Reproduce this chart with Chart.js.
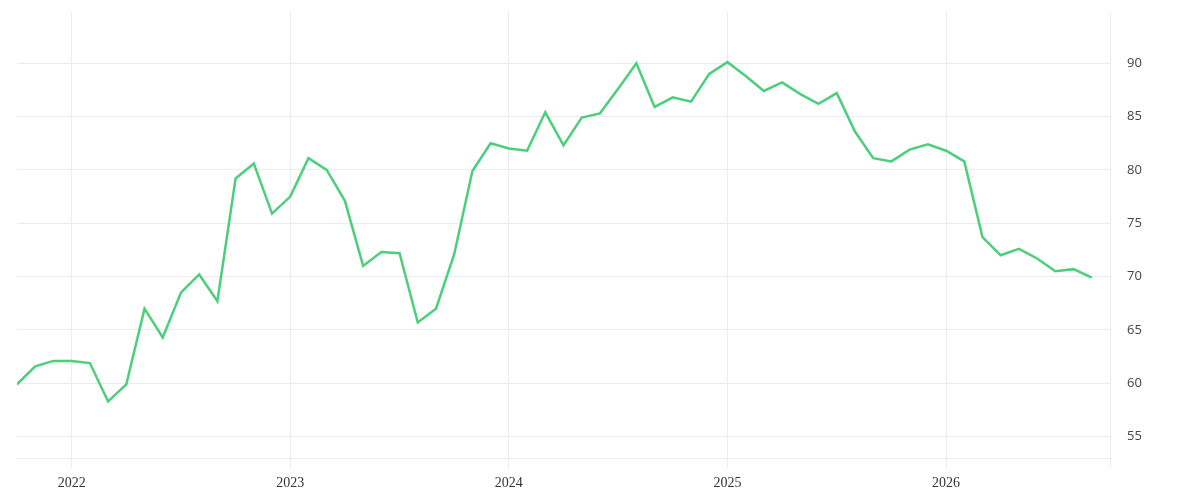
<!DOCTYPE html>
<html>
<head>
<meta charset="utf-8">
<script src="https://cdn.jsdelivr.net/npm/chart.js@4"></script>
<style>
  html, body { margin: 0; padding: 0; background: #fff; }
  #wrap { width: 1200px; height: 500px; }
</style>
</head>
<body>
<div id="wrap"><canvas id="c"></canvas></div>
<script>
// --- data: monthly values, Oct 2021 .. Sep 2026 ---
const startYear = 2021;
const startMonth = 10; // October
const values = [
    59.9, 61.6, 62.1, 62.1, 61.9, 58.3, 59.9, 67.0, 64.3, 68.5, 70.2, 67.7,
    79.2, 80.6, 75.9, 77.5, 81.1, 80.0, 77.1, 71.0, 72.3, 72.2, 65.7, 67.0,
    72.1, 79.9, 82.5, 82.0, 81.8, 85.4, 82.3, 84.9, 85.3, 87.6, 90.0, 85.9,
    86.8, 86.4, 89.0, 90.1, 88.8, 87.4, 88.2, 87.1, 86.2, 87.2, 83.6, 81.1,
    80.8, 81.9, 82.4, 81.8, 80.8, 73.7, 72.0, 72.6, 71.7, 70.5, 70.7, 69.9
];
const yearTicks = [2022, 2023, 2024, 2025, 2026];
const yTicks = [55, 60, 65, 70, 75, 80, 85, 90];

// month index (0 = first month) for each year start
function monthIndex(year, month) {
    return (year - startYear) * 12 + (month - startMonth);
}

const points = values.map((v, i) => ({ x: i, y: v }));
const xMax = values.length; // one month past the last point
const gridColor = '#ececec';

new Chart(document.getElementById('c'), {
    type: 'line',
    data: {
        datasets: [{
            data: points,
            borderColor: '#4ccf7c',
            borderWidth: 2.5,
            pointRadius: 0,
            tension: 0,
            fill: false
        }]
    },
    options: {
        responsive: true,
        maintainAspectRatio: false,
        animation: false,
        layout: { padding: { left: 17, top: 12, right: 0, bottom: 0 } },
        plugins: { legend: { display: false }, tooltip: { enabled: false } },
        scales: {
            x: {
                type: 'linear',
                min: 0,
                max: xMax,
                afterBuildTicks: (scale) => {
                    const t = yearTicks.map(y => ({ value: monthIndex(y, 1) }));
                    t.push({ value: xMax });
                    scale.ticks = t;
                },
                afterFit: (scale) => {
                    scale.height = 42;
                    scale.paddingLeft = 0;
                    scale.paddingRight = 0;
                },
                grid: { color: gridColor, tickLength: 10, lineWidth: 1 },
                border: { display: true, color: gridColor },
                ticks: {
                    autoSkip: false,
                    maxRotation: 0,
                    padding: 7,
                    color: '#333',
                    font: { family: 'Liberation Serif', size: 14 },
                    callback: (v) => {
                        const y = yearTicks.find(yr => monthIndex(yr, 1) === v);
                        return y ? String(y) : '';
                    }
                }
            },
            y: {
                position: 'right',
                min: 53,
                max: 94.8,
                afterBuildTicks: (scale) => {
                    scale.ticks = yTicks.map(v => ({ value: v }));
                },
                afterFit: (scale) => {
                    scale.width = 90;
                    scale.paddingTop = 0;
                    scale.paddingBottom = 0;
                },
                grid: { color: gridColor, drawTicks: false, lineWidth: 1 },
                border: { display: false },
                ticks: {
                    padding: 17,
                    color: '#444',
                    font: { family: 'Open Sans', size: 13 }
                }
            }
        }
    }
});
</script>
</body>
</html>
